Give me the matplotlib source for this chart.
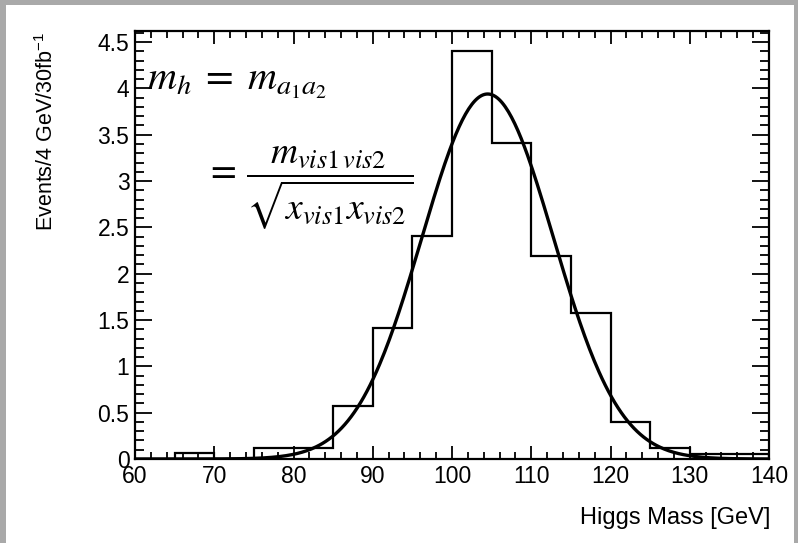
import numpy as np
import matplotlib
matplotlib.use("Agg")
import matplotlib.pyplot as plt
from matplotlib.patches import Rectangle
from matplotlib.ticker import MultipleLocator

plt.rcParams['font.family'] = ['Liberation Sans', 'DejaVu Sans']
plt.rcParams['mathtext.fontset'] = 'stix'

# histogram: 5 GeV bins from 60 to 140
bin_edges = [60, 65, 70, 75, 80, 85, 90, 95, 100, 105, 110, 115, 120, 125, 130, 135, 140]
counts = [0.0, 0.06, 0.0, 0.12, 0.12, 0.575, 1.41, 2.41, 4.40, 3.41, 2.19, 1.58, 0.40, 0.12, 0.05, 0.05]

# gaussian fit parameters
fit_amp = 3.94
fit_mean = 104.5
fit_sigma = 8.3

fig = plt.figure(figsize=(7.98, 5.43), dpi=100)

# gray slide frame
for (x0, y0, w, h) in [(0, 0, 6/798, 1), (0, 1 - 5/543, 1, 5/543), (1 - 4/798, 0, 4/798, 1)]:
    fig.patches.append(Rectangle((x0, y0), w, h, transform=fig.transFigure,
                                 facecolor='#a9a9a9', edgecolor='none', zorder=0))

ax = fig.add_axes([135/798, 1 - 459/543, 634/798, 428/543])

ax.stairs(counts, bin_edges, color='black', linewidth=1.6)

xs = np.linspace(60, 140, 400)
ax.plot(xs, fit_amp * np.exp(-(xs - fit_mean)**2 / (2 * fit_sigma**2)),
        color='black', linewidth=2.4)

ax.set_xlim(60, 140)
ax.set_ylim(0, 4.62)

ax.xaxis.set_major_locator(MultipleLocator(10))
ax.xaxis.set_minor_locator(MultipleLocator(2))
ax.yaxis.set_major_locator(MultipleLocator(0.5))
ax.yaxis.set_minor_locator(MultipleLocator(0.1))
ax.yaxis.set_major_formatter(matplotlib.ticker.FuncFormatter(lambda v, p: ('%g' % v)))

ax.tick_params(axis='both', which='both', direction='in', top=True, right=True,
               width=1.3, labelsize=16.5, color='black')
ax.tick_params(axis='x', which='major', length=9.5, pad=4)
ax.tick_params(axis='x', which='minor', length=5)
ax.tick_params(axis='y', which='major', length=12.5, pad=4)
ax.tick_params(axis='y', which='minor', length=6.5)
for s in ax.spines.values():
    s.set_linewidth(1.6)

fig.text(47/798, 1 - 32/543, 'Events/4 GeV/30fb$^{\\mathregular{-1}}$', rotation=90,
         ha='center', va='top', fontsize=15.5)
fig.text(770/798, 1 - 518/543, 'Higgs Mass [GeV]', ha='right', va='center', fontsize=17)

fig.text(147/798, 1 - 90/543, r'$m_h\;=\;m_{a_1 a_2}$', ha='left', va='baseline', fontsize=29)
fig.text(205/798, 1 - 188/543, r'$=\,\dfrac{m_{vis1\,vis2}}{\sqrt{x_{vis1} x_{vis2}}}$',
         ha='left', va='center', fontsize=27)

fig.savefig('out.png', dpi=100)
